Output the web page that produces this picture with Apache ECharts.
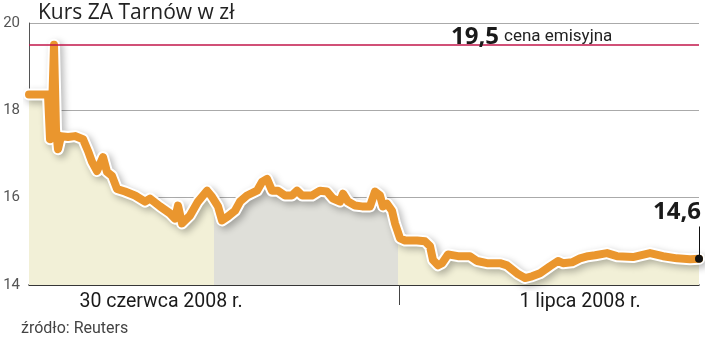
<!DOCTYPE html>
<html><head><meta charset="utf-8">
<script src="https://cdn.jsdelivr.net/npm/echarts@6/dist/echarts.min.js"></script>
<style>html,body{margin:0;padding:0;background:#fff}#c{width:720px;height:338px}</style>
</head><body><div id="c"></div>
<script>
// time units across the two sessions (0..670)
const times = [0,19,21,23,25,27,29,32,39,46,54,59,63,68,74,78,83,88,96,106,116,121,131,141,146,149,153,161,169,178,183,189,193,199,206,211,218,228,233,238,243,249,256,263,268,273,283,291,298,304,311,314,319,326,333,341,346,351,354,358,363,366,371,376,388,396,401,404,409,413,419,429,441,448,458,471,478,484,489,496,503,511,521,529,534,543,551,559,566,578,588,604,621,634,648,661,670];
const prices = [18.36,18.36,17.34,17.98,19.5,17.57,17.11,17.41,17.39,17.41,17.34,17.07,16.82,16.61,16.93,16.59,16.5,16.2,16.14,16.05,15.91,15.98,15.8,15.64,15.52,15.82,15.41,15.59,15.91,16.16,16.02,15.8,15.48,15.57,15.7,15.91,16.05,16.16,16.36,16.43,16.16,16.16,16.05,16.05,16.16,16.05,16.05,16.16,16.14,15.98,15.91,16.09,15.91,15.82,15.8,15.8,16.14,16.05,15.8,15.86,15.7,15.41,15.07,15.02,15.02,15.0,14.89,14.57,14.45,14.5,14.7,14.66,14.66,14.55,14.5,14.5,14.45,14.34,14.25,14.16,14.2,14.27,14.43,14.55,14.5,14.52,14.61,14.66,14.68,14.73,14.66,14.64,14.73,14.66,14.61,14.59,14.6];
const yTicks = [14,16,18,20];
const issuePrice = 19.5;
const lastPrice = 14.6;
const dayLabels = ['30 czerwca 2008 r.', '1 lipca 2008 r.'];
const dayLabelPos = [132, 551];
const daySplit = [370];
const shadeBounds = [185, 369];

const seriesData = times.map((t, i) => [t, prices[i]]);
const lastT = times[times.length - 1];

const chart = echarts.init(document.getElementById('c'));
chart.setOption({
  animation: false,
  grid: {left: 29, right: 21, top: 23, bottom: 53},
  title: [
    {text: 'Kurs ZA Tarnów w zł', left: 33, top: -2,
     textStyle: {fontFamily: 'Open Sans', fontSize: 21, fontWeight: 'normal', color: '#222'}},
    {text: 'źródło: Reuters', left: 16, top: 316,
     textStyle: {fontFamily: 'Roboto', fontSize: 16, fontWeight: 'normal', color: '#444'}},
    {text: '{a|19,5} {b|cena emisyjna}', left: 446, top: 20,
     textStyle: {fontWeight: 'normal', rich: {
       a: {fontFamily: 'Open Sans', fontSize: 24, fontWeight: 'bold', color: '#1a1a1a'},
       b: {fontFamily: 'Roboto', fontSize: 17, fontWeight: 'normal', color: '#222'}}}},
    {text: '14,6', right: 14, top: 195,
     textStyle: {fontFamily: 'Open Sans', fontSize: 24, fontWeight: 'bold', color: '#1a1a1a'}}
  ],
  visualMap: {
    show: false, type: 'piecewise', dimension: 0, seriesIndex: 0,
    pieces: [
      {lt: shadeBounds[0], color: '#F2F0D7'},
      {gte: shadeBounds[0], lt: shadeBounds[1], color: '#DFDFD9'},
      {gte: shadeBounds[1], color: '#F2F0D7'}
    ]
  },
  xAxis: {
    type: 'value', min: 0, max: lastT,
    splitLine: {show: false},
    axisLine: {show: true, lineStyle: {color: '#111', width: 1.5}},
    axisTick: {show: true, customValues: daySplit, length: 20, lineStyle: {color: '#444', width: 1}},
    axisLabel: {show: true, customValues: dayLabelPos, margin: 7,
      formatter: v => dayLabels[dayLabelPos.indexOf(v)] || '',
      fontFamily: 'Roboto', fontSize: 19.5, color: '#1a1a1a'}
  },
  yAxis: {
    type: 'value', min: 14, max: 20, interval: 2,
    axisLine: {show: true, lineStyle: {color: '#555', width: 1}},
    axisTick: {show: false},
    splitLine: {show: true, lineStyle: {color: '#aaa', width: 1}},
    axisLabel: {margin: 9, fontFamily: 'Roboto', fontSize: 15, color: '#555',
      padding: [8, 0, 0, 0],
      formatter: v => yTicks.includes(v) ? String(v) : ''}
  },
  series: [
    {type: 'line', data: seriesData, symbol: 'none', silent: true,
     lineStyle: {width: 0, opacity: 0},
     areaStyle: {opacity: 1, origin: 'start'}, z: 1},
    {type: 'line', data: seriesData, symbol: 'none', silent: true,
     lineStyle: {color: '#fff', width: 12, join: 'round', cap: 'round',
       shadowColor: 'rgba(0,0,0,0.28)', shadowBlur: 7, shadowOffsetX: 3, shadowOffsetY: 3},
     z: 2},
    {type: 'line', data: seriesData, symbol: 'none', silent: true,
     lineStyle: {color: '#EA962E', width: 8, join: 'round', cap: 'round'}, z: 3,
     markLine: {silent: true, symbol: 'none', label: {show: false},
       data: [
         {yAxis: issuePrice, lineStyle: {color: '#C2164A', width: 1.5, type: 'solid'}},
         [{coord: [lastT, lastPrice], lineStyle: {color: '#111', width: 1, type: 'solid'}},
          {coord: [lastT, 15.34]}]
       ]},
     markPoint: {silent: true, symbol: 'circle', symbolSize: 8, itemStyle: {color: '#111'},
       label: {show: false},
       data: [{coord: [lastT, lastPrice]}]}
    }
  ]
});
</script></body></html>
